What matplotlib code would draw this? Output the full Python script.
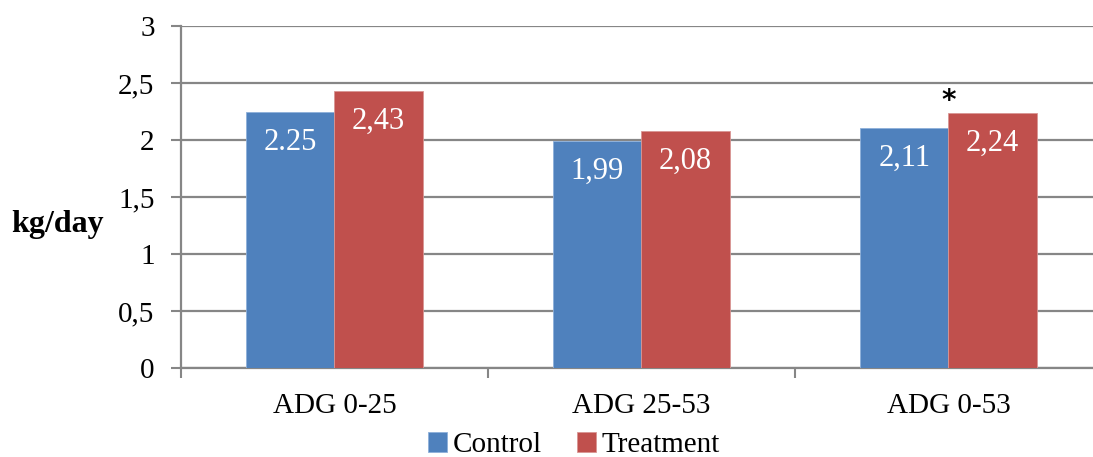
import matplotlib

matplotlib.use('Agg')
import matplotlib.pyplot as plt  # noqa: E402
import numpy as np  # noqa: E402

categories = ['ADG 0-25', 'ADG 25-53', 'ADG 0-53']
control = [2.25, 1.99, 2.11]
treatment = [2.43, 2.08, 2.24]
control_labels = ['2.25', '1,99', '2,11']
treatment_labels = ['2,43', '2,08', '2,24']
y_ticks = [0, 0.5, 1, 1.5, 2, 2.5, 3]
y_tick_labels = ['0', '0,5', '1', '1,5', '2', '2,5', '3']
significant = [False, False, True]

plt.rcParams['font.family'] = ['Liberation Serif', 'DejaVu Serif']

BLUE = '#4F81BD'
RED = '#C0504D'
GRID = '#868686'

figure = plt.figure(figsize=(10.93, 4.57), dpi=100)
axis = figure.add_axes([0.1656, 0.1947, 0.8344, 0.7483])

x = np.arange(len(categories))
width = 0.287
blue_bars = axis.bar(x - width / 2, control, width, color=BLUE, edgecolor='#8EB0DA',
                     linewidth=0.6, label='Control', zorder=3)
red_bars = axis.bar(x + width / 2, treatment, width, color=RED, edgecolor='#D99694',
                    linewidth=0.6, label='Treatment', zorder=3)

for bars, labels in ((blue_bars, control_labels), (red_bars, treatment_labels)):
    for bar, text in zip(bars, labels):
        axis.annotate(text, (bar.get_x() + bar.get_width() / 2, bar.get_height()),
                      xytext=(0, -22), textcoords='offset points',
                      ha='center', va='center', color='white', fontsize=22, zorder=4)

for index, flag in enumerate(significant):
    if flag:
        axis.annotate('*', (x[index], treatment[index]), xytext=(0, -2),
                      textcoords='offset points', ha='center', va='bottom',
                      fontsize=20, fontweight='bold', color='black',
                      family=['DejaVu Sans'])

axis.set_ylim(0, 3)
axis.set_xlim(-0.5, 2.471)
axis.set_yticks(y_ticks, labels=y_tick_labels)
axis.set_xticks(x, labels=categories)
axis.set_xticks([-0.5, 0.5, 1.5], minor=True)
axis.tick_params(axis='x', which='major', length=0, pad=18, labelsize=21)
axis.tick_params(axis='x', which='minor', length=7, width=1.5, color=GRID, direction='out')
axis.tick_params(axis='y', length=7, width=1.5, color=GRID, pad=12, labelsize=21)

axis.grid(axis='y', color=GRID, linewidth=1.6, zorder=0)
axis.set_axisbelow(True)
for side in ('top', 'right'):
    axis.spines[side].set_visible(False)
for side in ('left', 'bottom'):
    axis.spines[side].set_color(GRID)
    axis.spines[side].set_linewidth(1.6)

figure.text(0.010, 0.508, 'kg/day', fontsize=23, fontweight='bold', ha='left', va='center')

figure.legend(handles=[blue_bars, red_bars], loc='lower center', ncol=2,
              bbox_to_anchor=(0.525, -0.06), frameon=False, fontsize=21,
              handlelength=0.65, handleheight=0.65, handletextpad=0.2, columnspacing=1.2)

figure.savefig('out.png', dpi=100)
plt.close(figure)
